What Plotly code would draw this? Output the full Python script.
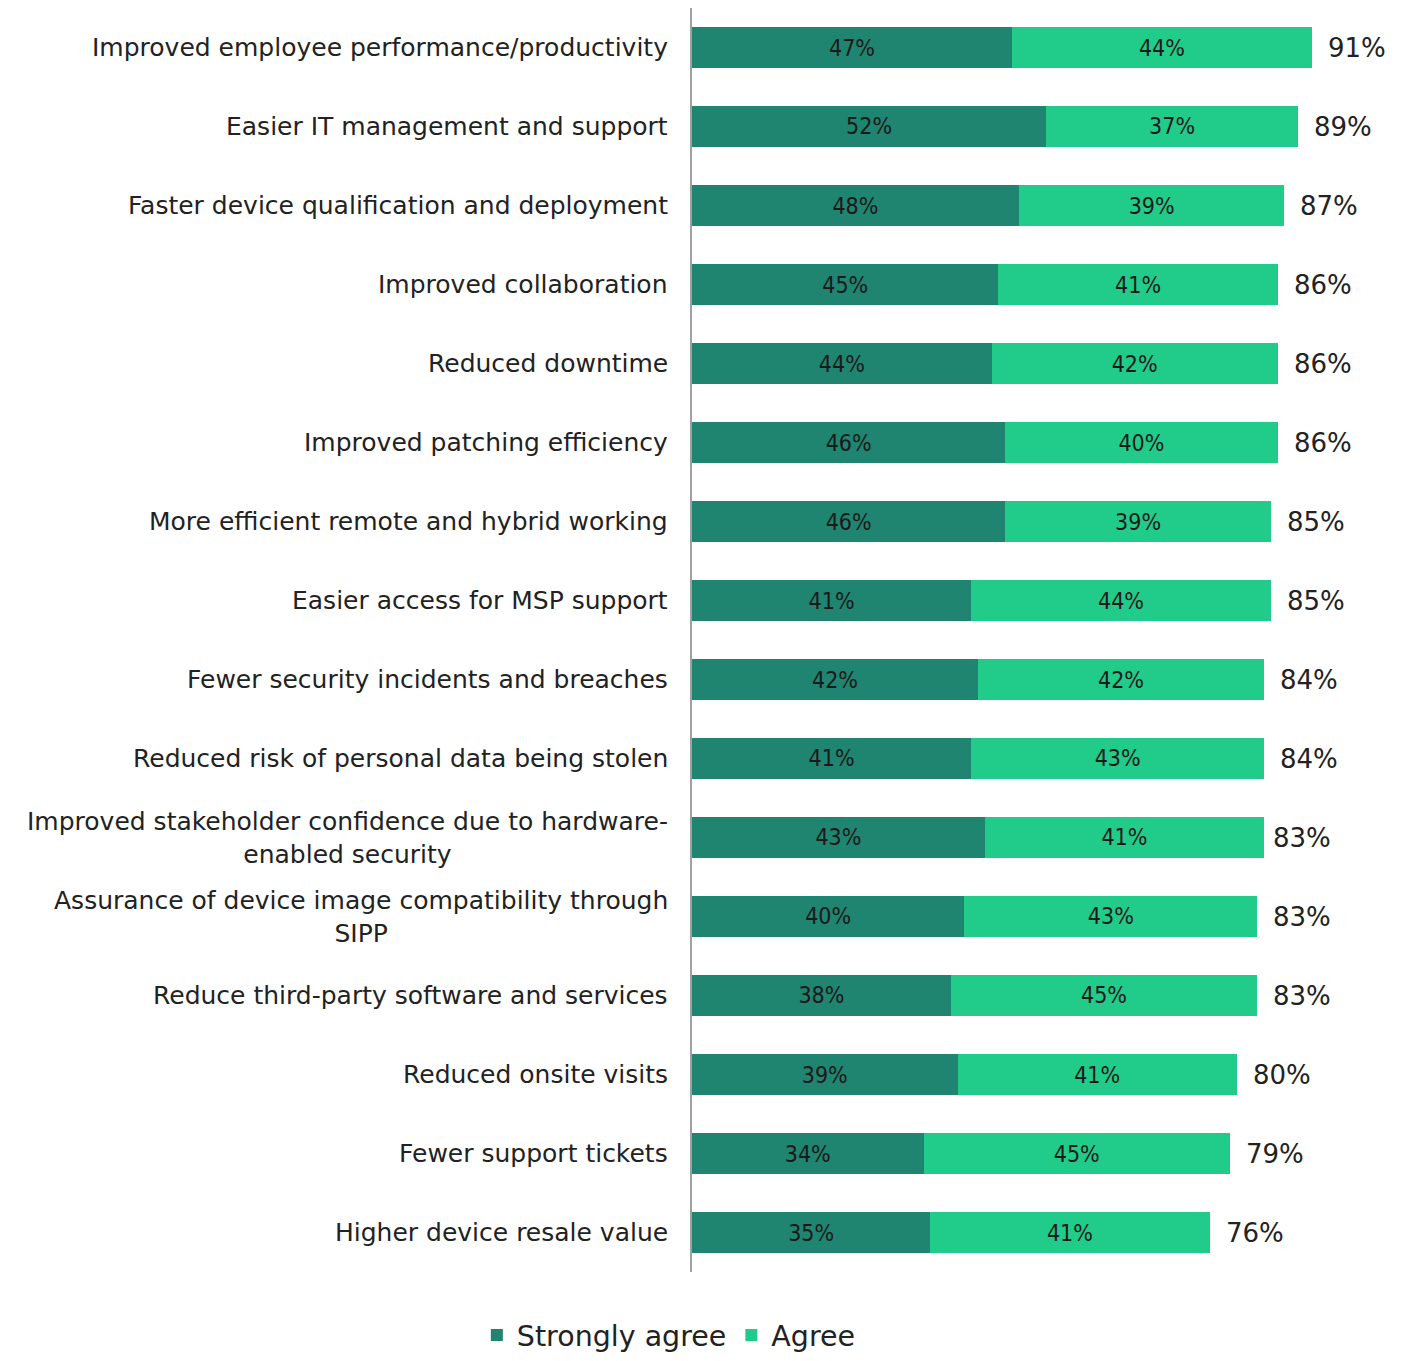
import plotly.graph_objects as go

categories = [
    "Improved employee performance/productivity",
    "Easier IT management and support",
    "Faster device qualification and deployment",
    "Improved collaboration",
    "Reduced downtime",
    "Improved patching efficiency",
    "More efficient remote and hybrid working",
    "Easier access for MSP support",
    "Fewer security incidents and breaches",
    "Reduced risk of personal data being stolen",
    "Improved stakeholder confidence due to hardware-<br>enabled security",
    "Assurance of device image compatibility through<br>SIPP",
    "Reduce third-party software and services",
    "Reduced onsite visits",
    "Fewer support tickets",
    "Higher device resale value",
]
strongly_agree = [47, 52, 48, 45, 44, 46, 46, 41, 42, 41, 43, 40, 38, 39, 34, 35]
agree = [44, 37, 39, 41, 42, 40, 39, 44, 42, 43, 41, 43, 45, 41, 45, 41]
totals = [91, 89, 87, 86, 86, 86, 85, 85, 84, 84, 83, 83, 83, 80, 79, 76]

dark = "#1f8470"
light = "#21cc8a"
bar_font = dict(family="Liberation Sans Narrow, DejaVu Sans Condensed, sans-serif", size=23, color="#1a1a1a")
label_font = dict(family="DejaVu Sans, sans-serif", size=25, color="#222")

fig = go.Figure()
fig.add_trace(go.Bar(
    y=categories, x=strongly_agree, orientation="h", name="Strongly agree",
    marker=dict(color=dark, line=dict(width=0)),
    texttemplate="%{x}%", textposition="inside", insidetextanchor="middle",
    textfont=bar_font, hoverinfo="skip",
))
fig.add_trace(go.Bar(
    y=categories, x=agree, orientation="h", name="Agree",
    marker=dict(color=light, line=dict(width=0)),
    texttemplate="%{x}%", textposition="inside", insidetextanchor="middle",
    textfont=bar_font, hoverinfo="skip",
))

for c, t in zip(categories, totals):
    fig.add_annotation(x=t, y=c, xref="x", yref="y", text=f"{t}%", showarrow=False,
                       xanchor="left", xshift=14,
                       font=dict(family="DejaVu Sans, sans-serif", size=26, color="#222"))
    fig.add_annotation(x=0, y=c, xref="x", yref="y", text=c, showarrow=False,
                       xanchor="right", xshift=-22, align="center",
                       font=label_font)

fig.update_layout(
    barmode="stack",
    bargap=0.49,
    width=1395, height=1353,
    margin=dict(l=684, r=30, t=0, b=89),
    plot_bgcolor="white", paper_bgcolor="white",
    showlegend=True,
    legend=dict(orientation="h", x=-0.034, xanchor="center", y=-0.0703, yanchor="bottom",
                font=dict(family="DejaVu Sans, sans-serif", size=28.5, color="#222"),
                traceorder="normal", itemwidth=30),
    xaxis=dict(range=[0, 100], visible=False, fixedrange=True),
    yaxis=dict(autorange="reversed", showticklabels=False, ticks="", showgrid=False,
               showline=True, linecolor="#a0a0a0", linewidth=1.5, zeroline=False),
)

fig.write_html("out.html")
